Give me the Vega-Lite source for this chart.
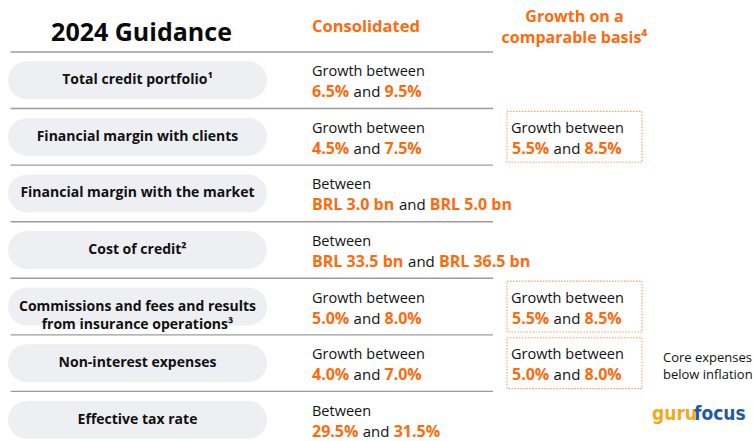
{
  "$schema": "https://vega.github.io/schema/vega-lite/v6.json",
  "width": 753,
  "height": 441,
  "autosize": "none",
  "padding": 0,
  "background": "white",
  "config": {"view": {"stroke": null}, "text": {"font": "Open Sans"}},
  "datasets": {
    "rows": [
      {"metric": "Total credit portfolio¹"},
      {"metric": "Financial margin with clients"},
      {"metric": "Financial margin with the market"},
      {"metric": "Cost of credit²"},
      {"metric": "Commissions and fees and results\nfrom insurance operations³"},
      {"metric": "Non-interest expenses"},
      {"metric": "Effective tax rate"}
    ],
    "cons": [
      {"metric": "Total credit portfolio¹", "lead": "Growth between", "low": "6.5%", "high": "9.5%"},
      {"metric": "Financial margin with clients", "lead": "Growth between", "low": "4.5%", "high": "7.5%"},
      {"metric": "Financial margin with the market", "lead": "Between", "low": "BRL 3.0 bn", "high": "BRL 5.0 bn"},
      {"metric": "Cost of credit²", "lead": "Between", "low": "BRL 33.5 bn", "high": "BRL 36.5 bn"},
      {"metric": "Commissions and fees and results\nfrom insurance operations³", "lead": "Growth between", "low": "5.0%", "high": "8.0%"},
      {"metric": "Non-interest expenses", "lead": "Growth between", "low": "4.0%", "high": "7.0%"},
      {"metric": "Effective tax rate", "lead": "Between", "low": "29.5%", "high": "31.5%"}
    ],
    "comp": [
      {"metric": "Financial margin with clients", "lead": "Growth between", "low": "5.5%", "high": "8.5%"},
      {"metric": "Commissions and fees and results\nfrom insurance operations³", "lead": "Growth between", "low": "5.5%", "high": "8.5%"},
      {"metric": "Non-interest expenses", "lead": "Growth between", "low": "5.0%", "high": "8.0%"}
    ],
    "note": [
      {"metric": "Non-interest expenses", "note": "Core expenses\nbelow inflation"}
    ],
    "headers": [
      {"metric": "header", "title": "2024 Guidance", "cons": "Consolidated", "comp": "Growth on a\ncomparable basis⁴"}
    ],
    "brand": [
      {"metric": "Effective tax rate", "a": "guru", "b": "focus"}
    ]
  },
  "layer": [
    {
      "data": {"name": "rows"},
      "mark": {"type": "bar", "cornerRadius": 19, "height": {"band": 0.67}, "color": "#EEEFF3"},
      "encoding": {
        "x": {"datum": 0, "type": "quantitative", "scale": {"type": "linear", "domain": [0, 1, 2, 3, 4, 5, 6], "range": [8, 267, 312, 493, 507, 642, 663], "zero": false, "nice": false}, "axis": null},
        "x2": {"datum": 1},
        "y": {"field": "metric", "type": "nominal", "scale": {"type": "band", "domain": ["header", "Total credit portfolio¹", "Financial margin with clients", "Financial margin with the market", "Cost of credit²", "Commissions and fees and results\nfrom insurance operations³", "Non-interest expenses", "Effective tax rate"], "range": [-4.6, 448], "paddingInner": 0, "paddingOuter": 0}, "axis": null}
      }
    },
    {
      "data": {"name": "rows"},
      "mark": {"type": "rule", "color": "#9C9C9C", "strokeWidth": 1.4},
      "encoding": {
        "x": {"datum": 0.01, "type": "quantitative"},
        "x2": {"datum": 3},
        "y": {"field": "metric", "type": "nominal", "bandPosition": 0}
      }
    },
    {
      "data": {"name": "comp"},
      "mark": {"type": "bar", "filled": false, "stroke": "#F7A067", "strokeWidth": 1.1, "strokeDash": [1.5, 1.5], "height": {"band": 0.9}},
      "encoding": {
        "x": {"datum": 4, "type": "quantitative"},
        "x2": {"datum": 5},
        "y": {"field": "metric", "type": "nominal"}
      }
    },
    {
      "data": {"name": "rows"},
      "mark": {"type": "text", "fontWeight": "bold", "fontSize": 14, "align": "center", "baseline": "middle", "lineBreak": "\n", "lineHeight": 18.5, "color": "#111111"},
      "encoding": {
        "x": {"datum": 0.5, "type": "quantitative"},
        "y": {"field": "metric", "type": "nominal"},
        "text": {"field": "metric"}
      }
    },
    {
      "data": {"name": "cons"},
      "mark": {"type": "text", "fontSize": 14.5, "align": "left", "baseline": "alphabetic", "dy": -4, "color": "#111111"},
      "encoding": {
        "x": {"datum": 2, "type": "quantitative"},
        "y": {"field": "metric", "type": "nominal"},
        "text": {"field": "lead"}
      }
    },
    {
      "data": {"name": "cons"},
      "mark": {"type": "text", "fontSize": 16, "fontWeight": "bold", "align": "left", "baseline": "alphabetic", "dy": 17, "color": "#FF6A0D"},
      "encoding": {
        "x": {"datum": 2, "type": "quantitative"},
        "y": {"field": "metric", "type": "nominal"},
        "text": {"field": "low"}
      }
    },
    {
      "data": {"name": "cons"},
      "transform": [
        {"calculate": "9.15*length(replace(datum.low, regexp('[^0-9]','g'), '')) + 4.6*length(replace(datum.low, regexp('[^.]','g'), '')) + 14.5*length(replace(datum.low, regexp('[^%]','g'), '')) + 4.2*length(replace(datum.low, regexp('[^ ]','g'), '')) + (indexof(datum.low,'BRL')>=0 ? 30.9 : 0) + (indexof(datum.low,'bn')>=0 ? 20.5 : 0)", "as": "w"},
        {"calculate": "2 + (datum.w + 4.2) / 181", "as": "xa"}
      ],
      "mark": {"type": "text", "fontSize": 15, "align": "left", "baseline": "alphabetic", "dy": 17, "color": "#111111", "text": "and"},
      "encoding": {
        "x": {"field": "xa", "type": "quantitative"},
        "y": {"field": "metric", "type": "nominal"}
      }
    },
    {
      "data": {"name": "cons"},
      "transform": [
        {"calculate": "9.15*length(replace(datum.low, regexp('[^0-9]','g'), '')) + 4.6*length(replace(datum.low, regexp('[^.]','g'), '')) + 14.5*length(replace(datum.low, regexp('[^%]','g'), '')) + 4.2*length(replace(datum.low, regexp('[^ ]','g'), '')) + (indexof(datum.low,'BRL')>=0 ? 30.9 : 0) + (indexof(datum.low,'bn')>=0 ? 20.5 : 0)", "as": "w"},
        {"calculate": "2 + (datum.w + 4.2 + 26.7 + 4.2) / 181", "as": "xh"}
      ],
      "mark": {"type": "text", "fontSize": 16, "fontWeight": "bold", "align": "left", "baseline": "alphabetic", "dy": 17, "color": "#FF6A0D"},
      "encoding": {
        "x": {"field": "xh", "type": "quantitative"},
        "y": {"field": "metric", "type": "nominal"},
        "text": {"field": "high"}
      }
    },
    {
      "data": {"name": "comp"},
      "mark": {"type": "text", "fontSize": 14.5, "align": "left", "baseline": "alphabetic", "dy": -4, "dx": 4, "color": "#111111"},
      "encoding": {
        "x": {"datum": 4, "type": "quantitative"},
        "y": {"field": "metric", "type": "nominal"},
        "text": {"field": "lead"}
      }
    },
    {
      "data": {"name": "comp"},
      "mark": {"type": "text", "fontSize": 16, "fontWeight": "bold", "align": "left", "baseline": "alphabetic", "dy": 17, "dx": 5, "color": "#FF6A0D"},
      "encoding": {
        "x": {"datum": 4, "type": "quantitative"},
        "y": {"field": "metric", "type": "nominal"},
        "text": {"field": "low"}
      }
    },
    {
      "data": {"name": "comp"},
      "transform": [
        {"calculate": "9.15*length(replace(datum.low, regexp('[^0-9]','g'), '')) + 4.6*length(replace(datum.low, regexp('[^.]','g'), '')) + 14.5*length(replace(datum.low, regexp('[^%]','g'), ''))", "as": "w"},
        {"calculate": "4 + (datum.w + 4.2) / 135", "as": "xa"}
      ],
      "mark": {"type": "text", "fontSize": 15, "align": "left", "baseline": "alphabetic", "dy": 17, "dx": 5, "color": "#111111", "text": "and"},
      "encoding": {
        "x": {"field": "xa", "type": "quantitative"},
        "y": {"field": "metric", "type": "nominal"}
      }
    },
    {
      "data": {"name": "comp"},
      "transform": [
        {"calculate": "9.15*length(replace(datum.low, regexp('[^0-9]','g'), '')) + 4.6*length(replace(datum.low, regexp('[^.]','g'), '')) + 14.5*length(replace(datum.low, regexp('[^%]','g'), ''))", "as": "w"},
        {"calculate": "4 + (datum.w + 4.2 + 26.7 + 4.2) / 135", "as": "xh"}
      ],
      "mark": {"type": "text", "fontSize": 16, "fontWeight": "bold", "align": "left", "baseline": "alphabetic", "dy": 17, "dx": 5, "color": "#FF6A0D"},
      "encoding": {
        "x": {"field": "xh", "type": "quantitative"},
        "y": {"field": "metric", "type": "nominal"},
        "text": {"field": "high"}
      }
    },
    {
      "data": {"name": "note"},
      "mark": {"type": "text", "fontSize": 13, "align": "left", "baseline": "alphabetic", "dy": -1.5, "lineBreak": "\n", "lineHeight": 17, "color": "#111111"},
      "encoding": {
        "x": {"datum": 6, "type": "quantitative"},
        "y": {"field": "metric", "type": "nominal"},
        "text": {"field": "note"}
      }
    },
    {
      "data": {"name": "brand"},
      "mark": {"type": "text", "font": "DejaVu Sans Condensed", "fontWeight": "bold", "fontSize": 19, "align": "left", "baseline": "alphabetic", "dx": -11, "dy": 0, "color": "#F5A81C"},
      "encoding": {
        "x": {"datum": 6, "type": "quantitative"},
        "y": {"field": "metric", "type": "nominal"},
        "text": {"field": "a"}
      }
    },
    {
      "data": {"name": "brand"},
      "mark": {"type": "text", "font": "DejaVu Sans Condensed", "fontWeight": "bold", "fontSize": 19, "align": "left", "baseline": "alphabetic", "dx": 31, "dy": 0, "color": "#1F5BA6"},
      "encoding": {
        "x": {"datum": 6, "type": "quantitative"},
        "y": {"field": "metric", "type": "nominal"},
        "text": {"field": "b"}
      }
    },
    {
      "data": {"name": "headers"},
      "mark": {"type": "text", "fontWeight": "bold", "fontSize": 25, "align": "center", "baseline": "alphabetic", "dx": 4, "dy": 17, "color": "#0A0A0A"},
      "encoding": {
        "x": {"datum": 0.5, "type": "quantitative"},
        "y": {"field": "metric", "type": "nominal"},
        "text": {"field": "title"}
      }
    },
    {
      "data": {"name": "headers"},
      "mark": {"type": "text", "fontWeight": "bold", "fontSize": 16.5, "align": "left", "baseline": "alphabetic", "dy": 8.7, "color": "#FF6A0D"},
      "encoding": {
        "x": {"datum": 2, "type": "quantitative"},
        "y": {"field": "metric", "type": "nominal"},
        "text": {"field": "cons"}
      }
    },
    {
      "data": {"name": "headers"},
      "mark": {"type": "text", "fontWeight": "bold", "fontSize": 16, "align": "center", "baseline": "alphabetic", "dy": -2.1, "lineBreak": "\n", "lineHeight": 21, "color": "#FF6A0D"},
      "encoding": {
        "x": {"datum": 4.5, "type": "quantitative"},
        "y": {"field": "metric", "type": "nominal"},
        "text": {"field": "comp"}
      }
    }
  ]
}
